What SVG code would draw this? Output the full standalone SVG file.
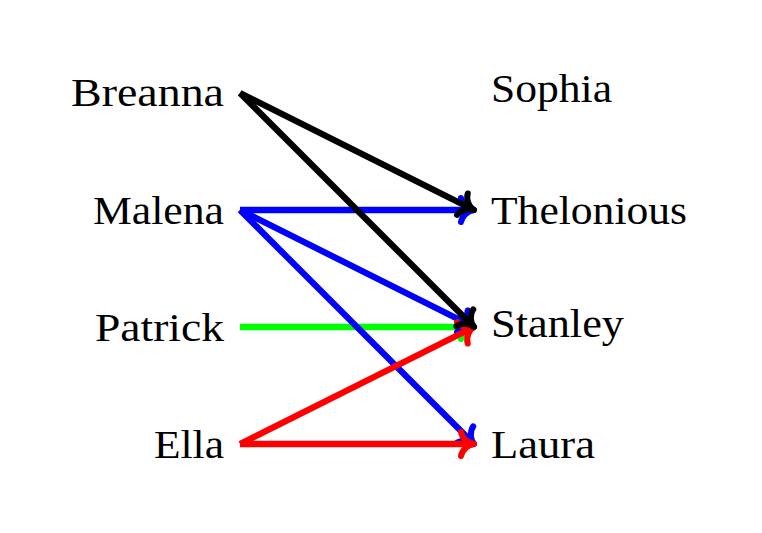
<svg xmlns="http://www.w3.org/2000/svg" width="762" height="533" viewBox="0 0 762 533">
  <style>
    text { font-family: "Liberation Serif", "Times New Roman", serif; font-size: 39px; fill: #000; }
    .e { fill: none; stroke-width: 6.3; stroke-linecap: butt; }
    .h { fill: none; stroke-width: 6; stroke-linecap: round; stroke-linejoin: round; }
  </style>
  <defs>
    <marker id="aK" markerUnits="userSpaceOnUse" markerWidth="30" markerHeight="30" refX="15" refY="15" orient="auto" overflow="visible">
      <path class="h" stroke="#000" d="M2,3 C3,9 9,14.5 15,15 C9,15.5 3,21 2,27"/>
    </marker>
    <marker id="aB" markerUnits="userSpaceOnUse" markerWidth="30" markerHeight="30" refX="15" refY="15" orient="auto" overflow="visible">
      <path class="h" stroke="#0000ff" d="M2,3 C3,9 9,14.5 15,15 C9,15.5 3,21 2,27"/>
    </marker>
    <marker id="aG" markerUnits="userSpaceOnUse" markerWidth="30" markerHeight="30" refX="15" refY="15" orient="auto" overflow="visible">
      <path class="h" stroke="#00ff00" d="M2,3 C3,9 9,14.5 15,15 C9,15.5 3,21 2,27"/>
    </marker>
    <marker id="aR" markerUnits="userSpaceOnUse" markerWidth="30" markerHeight="30" refX="15" refY="15" orient="auto" overflow="visible">
      <path class="h" stroke="#ff0000" d="M2,3 C3,9 9,14.5 15,15 C9,15.5 3,21 2,27"/>
    </marker>
  </defs>
  <rect width="762" height="533" fill="#fff"/>

  <g id="connectors">
    <path class="e" stroke="#00ff00" marker-end="url(#aG)" d="M240,327 L474,327"/>
    <path class="e" stroke="#0000ff" marker-end="url(#aB)" d="M240,210 L474,210"/>
    <path class="e" stroke="#0000ff" marker-end="url(#aB)" d="M240,210 L474,327"/>
    <path class="e" stroke="#0000ff" marker-end="url(#aB)" d="M240,210 L474,444"/>
    <path class="e" stroke="#ff0000" marker-end="url(#aR)" d="M240,444 L474,327"/>
    <path class="e" stroke="#ff0000" marker-end="url(#aR)" d="M240,444 L474,444"/>
    <path class="e" stroke="#000" marker-end="url(#aK)" d="M240,93 L474,210"/>
    <path class="e" stroke="#000" marker-end="url(#aK)" d="M240,93 L474,327"/>
  </g>

  <g id="node-breanna"><text x="71" y="106" textLength="153" lengthAdjust="spacingAndGlyphs">Breanna</text></g>
  <g id="node-malena"><text x="93" y="224" textLength="131" lengthAdjust="spacingAndGlyphs">Malena</text></g>
  <g id="node-patrick"><text x="95" y="341" textLength="129" lengthAdjust="spacingAndGlyphs">Patrick</text></g>
  <g id="node-ella"><text x="154" y="458" textLength="70" lengthAdjust="spacingAndGlyphs">Ella</text></g>
  <g id="node-sophia"><text x="491" y="102" textLength="121" lengthAdjust="spacingAndGlyphs">Sophia</text></g>
  <g id="node-thelonious"><text x="491" y="224" textLength="196" lengthAdjust="spacingAndGlyphs">Thelonious</text></g>
  <g id="node-stanley"><text x="491" y="337" textLength="133" lengthAdjust="spacingAndGlyphs">Stanley</text></g>
  <g id="node-laura"><text x="491" y="458" textLength="104" lengthAdjust="spacingAndGlyphs">Laura</text></g>
</svg>
